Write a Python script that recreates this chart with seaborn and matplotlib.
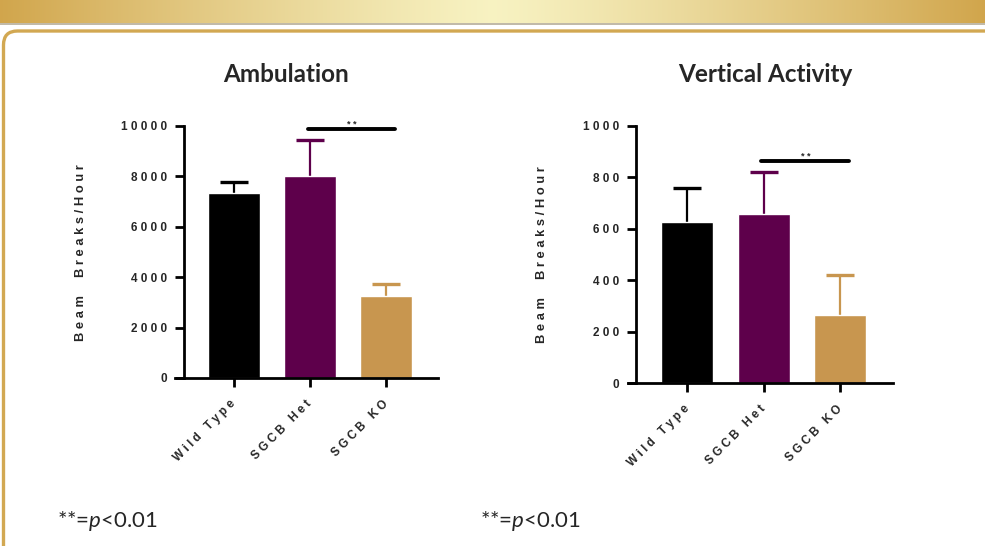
import matplotlib
matplotlib.use("Agg")
import matplotlib.pyplot as plt
import seaborn as sns
import numpy as np
from matplotlib.patches import FancyBboxPatch

# data
groups = ["Wild Type", "SGCB Het", "SGCB KO"]
ambulation_mean = [7330, 8000, 3260]
ambulation_sem = [450, 1440, 470]
vertical_mean = [625, 657, 264]
vertical_sem = [132, 164, 156]
amb_ticks = [0, 2000, 4000, 6000, 8000, 10000]
vert_ticks = [0, 200, 400, 600, 800, 1000]
bar_colors = ["#000000", "#5E004B", "#C8964F"]

W, H = 985, 546

sns.set_theme(style="white")
plt.rcParams["font.family"] = ["Liberation Sans", "DejaVu Sans"]
plt.rcParams["mathtext.fontset"] = "custom"
plt.rcParams["mathtext.it"] = "Lato:italic"
plt.rcParams["mathtext.rm"] = "Lato"


def spaced(s):
    return " ".join(s)


def px_axes(fig, x0, x1, ytop, ybot):
    return fig.add_axes([x0 / W, 1 - ybot / H, (x1 - x0) / W, (ybot - ytop) / H])


def draw_panel(ax, means, sems, ticks, ymax, sig_y, xlim, spine_x):
    sns.barplot(x=groups, y=means, hue=groups, palette=bar_colors, legend=False,
                width=0.68, saturation=1, ax=ax, errorbar=None, zorder=2)
    for i, (m, e) in enumerate(zip(means, sems)):
        # drawn behind the bar so only the upper half shows
        ax.errorbar(i, m, yerr=[[e], [e]], fmt="none", ecolor=bar_colors[i],
                    elinewidth=1.6, capsize=10, capthick=2.4, zorder=1)
    ax.set_xlim(*xlim)
    ax.set_ylim(0, ymax)
    ax.spines["top"].set_visible(False)
    ax.spines["right"].set_visible(False)
    ax.spines["left"].set_position(("data", spine_x))
    for s in ["left", "bottom"]:
        ax.spines[s].set_linewidth(2)
        ax.spines[s].set_color("black")
        ax.spines[s].set_zorder(3)
    ax.set_yticks(ticks)
    ax.set_yticklabels([spaced(str(t)) for t in ticks], fontsize=8.5, fontweight="bold")
    ax.set_xticks(range(len(groups)))
    ax.set_xticklabels([spaced(g) for g in groups], fontsize=8.5, fontweight="bold",
                       rotation=45, ha="right", va="center", rotation_mode="anchor")
    ax.tick_params(axis="both", direction="out", length=6.5, width=2, color="black",
                   bottom=True, left=True)
    ax.tick_params(axis="x", pad=11)
    ax.tick_params(axis="y", pad=5.5)
    ax.set_xlabel("")
    ax.set_ylabel("")
    # significance bar between Het and KO
    ax.plot([1 - 0.03, 2 + 0.12], [sig_y, sig_y], color="black", lw=2.8,
            solid_capstyle="round", clip_on=False, zorder=4)
    ax.text(1.55, sig_y, "* *", ha="center", va="bottom", fontsize=6.5, fontweight="bold")


fig = plt.figure(figsize=(W / 100, H / 100), dpi=100)

# banner gradient
bax = fig.add_axes([0, 1 - 23 / H, 1, 23 / H])
xs = np.linspace(-1, 1, 400)
t = np.abs(xs) ** 1.2
c_edge = np.array([0.82, 0.65, 0.30])
c_mid = np.array([0.97, 0.95, 0.76])
grad = (c_mid[None, :] * (1 - t[:, None]) + c_edge[None, :] * t[:, None])[None, :, :]
bax.imshow(grad, aspect="auto", extent=[0, 1, 0, 1])
bax.axis("off")
fig.add_artist(plt.Line2D([0, 1], [1 - 24 / H, 1 - 24 / H], color="#B5AD98", lw=1.2,
                          transform=fig.transFigure))

# rounded frame
frame = FancyBboxPatch((0.035, -1.0), 12.0, 1.0 + (H - 31) / 100,
                       boxstyle="round,pad=0,rounding_size=0.14",
                       transform=fig.dpi_scale_trans, fill=False,
                       edgecolor="#D2A852", lw=2.4)
fig.add_artist(frame)

ax1 = px_axes(fig, 175, 438, 126, 378)
draw_panel(ax1, ambulation_mean, ambulation_sem, amb_ticks, 10000, 9900,
           (-0.776, 2.684), -0.66)
ax2 = px_axes(fig, 628, 893, 126, 383)
draw_panel(ax2, vertical_mean, vertical_sem, vert_ticks, 1000, 862,
           (-0.775, 2.69), -0.667)

ylab = spaced("Beam") + "     " + spaced("Breaks/Hour")
fig.text(81 / W, 1 - 253 / H, ylab, rotation=90, ha="center", va="center",
         fontsize=9.3, fontweight="bold")
fig.text(542 / W, 1 - 255 / H, ylab, rotation=90, ha="center", va="center",
         fontsize=9.3, fontweight="bold")

fig.text(286 / W, 1 - 75 / H, "Ambulation", ha="center", va="center",
         fontsize=17.5, fontweight="bold", family=["Lato", "DejaVu Sans"])
fig.text(765 / W, 1 - 75 / H, "Vertical Activity", ha="center", va="center",
         fontsize=17.5, fontweight="bold", family=["Lato", "DejaVu Sans"])

fig.text(57 / W, 1 - 521 / H, r"**=$p$<0.01", ha="left", va="center",
         fontsize=16, family=["Lato", "DejaVu Sans"])
fig.text(480 / W, 1 - 521 / H, r"**=$p$<0.01", ha="left", va="center",
         fontsize=16, family=["Lato", "DejaVu Sans"])

fig.savefig("out.png", dpi=100)
